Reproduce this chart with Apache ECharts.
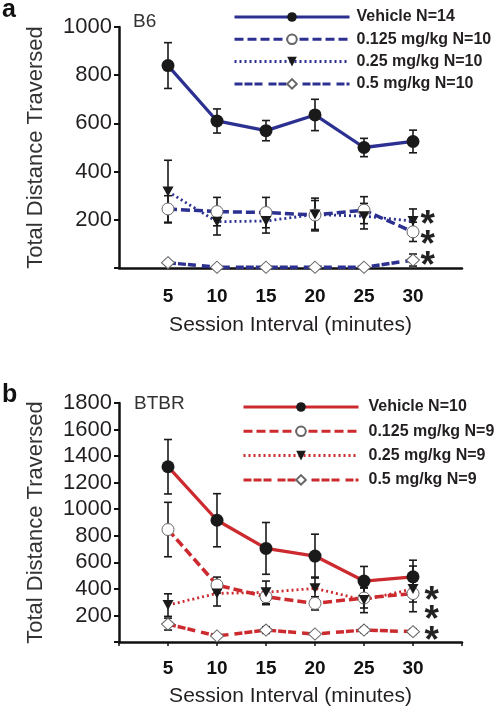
<!DOCTYPE html>
<html><head><meta charset="utf-8">
<script src="https://cdn.jsdelivr.net/npm/echarts@6/dist/echarts.min.js"></script>
<style>html,body{margin:0;padding:0;background:#fff}#c{width:499px;height:712px}</style>
</head><body><div id="c"></div>
<script>
// ---- data ----
const minutes = [5, 10, 15, 20, 25, 30];
const xTickLabels = ['5', '10', '15', '20', '25', '30'];

// Panel a: B6
const b6Names = ['Vehicle N=14', '0.125 mg/kg N=10', '0.25 mg/kg N=10', '0.5 mg/kg N=10'];
const b6Vehicle = [840, 610, 570, 635, 500, 525];
const b6VehicleErr = [95, 50, 42, 65, 38, 47];
const b6D125 = [245, 234, 230, 220, 240, 150];
const b6D125Err = [55, 59, 63, 60, 56, 40];
const b6D25 = [317, 192, 195, 222, 215, 195];
const b6D25Err = [130, 55, 50, 68, 53, 50];
const b6D5 = [22, 3, 3, 3, 3, 33];
const b6D5Err = [8, 3, 3, 3, 3, 25];
const b6StarLevels = [212, 129, 41];
const b6YTicks = [0, 200, 400, 600, 800, 1000];

// Panel b: BTBR
const btbrNames = ['Vehicle N=10', '0.125 mg/kg N=9', '0.25 mg/kg N=9', '0.5 mg/kg N=9'];
const btbrVehicle = [1320, 917, 705, 647, 459, 491];
const btbrVehicleErr = [205, 200, 195, 165, 110, 125];
const btbrD125 = [847, 429, 341, 291, 331, 365];
const btbrD125Err = [205, 60, 60, 50, 75, 64];
const btbrD25 = [278, 366, 374, 404, 316, 400];
const btbrD25Err = [85, 95, 85, 85, 95, 172];
const btbrD5 = [135, 45, 90, 60, 90, 78];
const btbrD5Err = [45, 10, 25, 10, 20, 20];
const btbrStarLevels = [368, 226, 68];
const btbrYTicks = [0, 200, 400, 600, 800, 1000, 1200, 1400, 1600, 1800];

// ---- styling ----
const FONT = "'Liberation Sans', Arial, Helvetica, sans-serif";
const BLUE = '#2c3191';
const RED = '#cc2a2e';
const TXT = '#231f20';
const TRI = 'path://M0,0L10,0L5,9Z';

function pts(vals) { return minutes.map((m, i) => [m, vals[i]]); }
function errPts(vals, errs) { return minutes.map((m, i) => [m, vals[i], errs[i]]); }

function errRender(params, api) {
  const x = api.value(0), y = api.value(1), e = api.value(2);
  const t = api.coord([x, y + e]);
  const b = api.coord([x, y - e]);
  const w = 4;
  const st = { stroke: '#1a1a1a', lineWidth: 1.6 };
  return { type: 'group', children: [
    { type: 'line', shape: { x1: t[0], y1: t[1], x2: b[0], y2: b[1] }, style: st },
    { type: 'line', shape: { x1: t[0] - w, y1: t[1], x2: t[0] + w, y2: t[1] }, style: st },
    { type: 'line', shape: { x1: b[0] - w, y1: b[1], x2: b[0] + w, y2: b[1] }, style: st }
  ]};
}
function starRender(params, api) {
  const p = api.coord([api.value(0), api.value(1)]);
  return { type: 'text', x: p[0], y: p[1] + 9, style: {
    text: '*', font: 'bold 37px ' + FONT, fill: '#222', align: 'center', verticalAlign: 'middle' } };
}

function panelSeries(idx, names, color, sets, starLevels, starX) {
  const out = [];
  const styles = [
    { symbol: 'circle', symbolSize: 13, item: { color: '#1a1a1a' }, line: { type: 'solid', width: 3.3 } },
    { symbol: 'circle', symbolSize: 12, item: { color: '#fff', borderColor: '#666', borderWidth: 1 }, line: { type: [9, 4], width: 3.5 } },
    { symbol: TRI, symbolSize: [11, 10], item: { color: '#1a1a1a' }, line: { type: [2, 3], width: 2.8 } },
    { symbol: 'diamond', symbolSize: [13, 12], item: { color: '#fff', borderColor: '#666', borderWidth: 1 }, line: { type: [8, 2, 8, 2, 8, 6], width: 3.5 } }
  ];
  sets.forEach((s) => {
    out.push({
      type: 'custom', xAxisIndex: idx, yAxisIndex: idx, z: 2, silent: true,
      renderItem: errRender, encode: { x: 0, y: 1 }, data: errPts(s[0], s[1])
    });
  });
  sets.forEach((s, k) => {
    const st = styles[k];
    out.push({
      type: 'line', name: names[k], xAxisIndex: idx, yAxisIndex: idx, z: 3 + (k === 0 ? 2 : 0),
      data: pts(s[0]), symbol: st.symbol, symbolSize: st.symbolSize, showAllSymbol: true,
      clip: false, silent: true,
      itemStyle: st.item,
      lineStyle: { color: color, width: st.line.width, type: st.line.type },
      emphasis: { disabled: true }
    });
  });
  out.push({
    type: 'custom', xAxisIndex: idx, yAxisIndex: idx, z: 6, silent: true,
    renderItem: starRender, encode: { x: 0, y: 1 }, clip: false,
    data: starLevels.map(v => [starX, v])
  });
  return out;
}

function xAxisCfg(idx, ticks, margin, nameGap) {
  return {
    type: 'value', gridIndex: idx, min: 0, max: 35, interval: 5,
    axisLine: { show: true, lineStyle: { color: '#111', width: 2.5 } },
    axisTick: { show: ticks, length: 4, lineStyle: { color: '#111', width: 1.5 } },
    splitLine: { show: false },
    axisLabel: {
      margin: margin, fontSize: 19, fontWeight: 'bold', color: '#111', fontFamily: FONT,
      formatter: v => { const i = minutes.indexOf(v); return i >= 0 ? xTickLabels[i] : ''; }
    },
    name: 'Session Interval (minutes)', nameLocation: 'middle', nameGap: nameGap,
    nameTextStyle: { fontSize: 21, color: TXT, fontFamily: FONT }
  };
}
function yAxisCfg(idx, ticks) {
  return {
    type: 'value', gridIndex: idx, min: ticks[0], max: ticks[ticks.length - 1], interval: 200,
    axisLine: { show: true, lineStyle: { color: '#111', width: 2.5 } },
    axisTick: { show: true, length: 5, lineStyle: { color: '#111', width: 2 } },
    splitLine: { show: false },
    axisLabel: { margin: 7, fontSize: 22, color: TXT, fontFamily: FONT,
      formatter: v => (v === 0 ? '' : String(v)) },
    name: 'Total Distance Traversed', nameLocation: 'middle', nameGap: 72, nameRotate: 90,
    nameTextStyle: { fontSize: 22, color: '#333', fontFamily: FONT }
  };
}
function legendCfg(names, left, top, gap, pad) {
  return {
    orient: 'vertical', left: left, top: top, itemWidth: 115, itemHeight: 12, itemGap: gap,
    padding: 0, selectedMode: false, data: names,
    lineStyle: { width: 3 },
    textStyle: { fontSize: 16, fontWeight: 'bold', color: TXT, fontFamily: FONT, lineHeight: 12, padding: [0, 0, 0, pad] }
  };
}

const chart = echarts.init(document.getElementById('c'), null, { renderer: 'canvas' });
chart.setOption({
  animation: false,
  backgroundColor: '#fff',
  grid: [
    { left: 119, top: 27, width: 343, height: 241 },
    { left: 119, top: 403, width: 343, height: 239 }
  ],
  xAxis: [xAxisCfg(0, false, 19, 47), xAxisCfg(1, true, 17, 44)],
  yAxis: [yAxisCfg(0, b6YTicks), yAxisCfg(1, btbrYTicks)],
  legend: [legendCfg(b6Names, 233, 9, 6.3, 2), legendCfg(btbrNames, 242, 399, 8.3, 5)],
  graphic: [
    { type: 'text', left: 2, top: -2, style: { text: 'a', font: 'bold 25px ' + FONT, fill: '#111' } },
    { type: 'text', left: 2, top: 383, style: { text: 'b', font: 'bold 25px ' + FONT, fill: '#111' } },
    { type: 'text', left: 133, top: 12, style: { text: 'B6', font: '19px ' + FONT, fill: '#333' } },
    { type: 'text', left: 134, top: 394, style: { text: 'BTBR', font: '19px ' + FONT, fill: '#333' } }
  ],
  series: [].concat(
    panelSeries(0, b6Names, BLUE,
      [[b6Vehicle, b6VehicleErr], [b6D125, b6D125Err], [b6D25, b6D25Err], [b6D5, b6D5Err]],
      b6StarLevels, 31.5),
    panelSeries(1, btbrNames, RED,
      [[btbrVehicle, btbrVehicleErr], [btbrD125, btbrD125Err], [btbrD25, btbrD25Err], [btbrD5, btbrD5Err]],
      btbrStarLevels, 31.9)
  )
});
</script>
</body></html>
